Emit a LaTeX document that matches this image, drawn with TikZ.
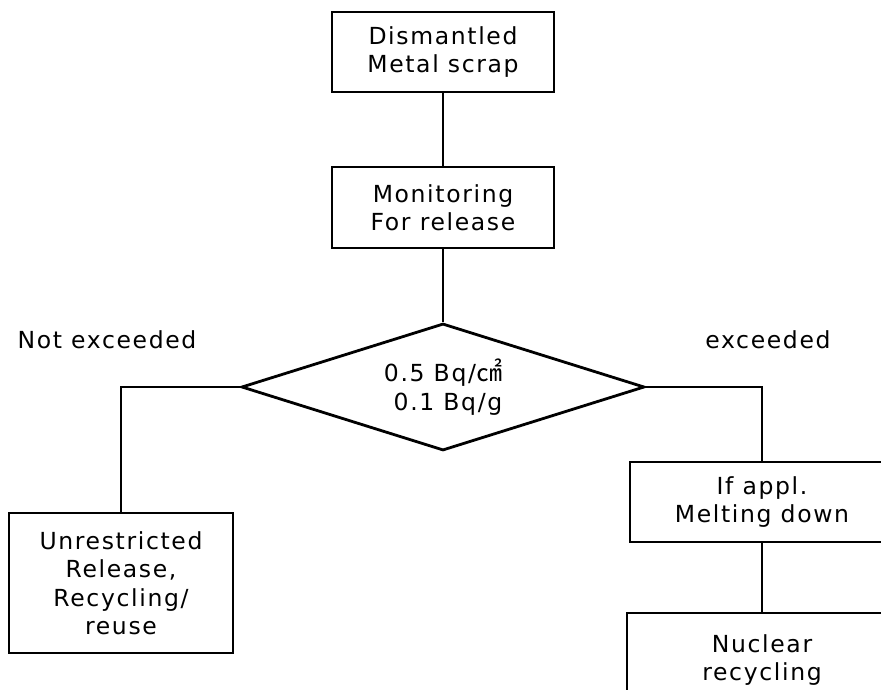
\documentclass[tikz,border=0pt]{standalone}
\usepackage{fontspec}
\setmainfont[LetterSpace=7]{DejaVu Sans}
\newfontfamily\cjk{Noto Sans CJK KR}
\usetikzlibrary{shapes.geometric}
\begin{document}
\begin{tikzpicture}[x=1pt,y=-1pt,
  font=\fontsize{23.5}{28.5}\selectfont,
  box/.style={draw, line width=2pt, rectangle, align=center, inner sep=0pt},
  dia/.style={draw, line width=2.8pt, diamond, aspect=3.17, inner sep=0pt,
    align=center, minimum width=403pt, minimum height=127pt},
  conn/.style={line width=2pt},
  lbl/.style={inner sep=0pt}]
\useasboundingbox (0,0) rectangle (881,690);
\clip (0,0) rectangle (881,690);
\fill[white] (0,0) rectangle (881,690);
\node[box, minimum width=222pt, minimum height=80pt] (b1) at (443,52) {Dismantled\\Metal scrap};
\node[box, minimum width=222pt, minimum height=81pt] (b2) at (443,207.5) {Monitoring\\For release};
\node[dia] (d) at (443,387) {0.5 Bq/{\cjk\fontsize{26}{28.5}\selectfont ㎠}\\ \hspace*{10pt}0.1 Bq/g};
\node[box, minimum width=224pt, minimum height=140pt] (b3) at (121,583) {Unrestricted\\Release,\\Recycling/\\reuse};
\node[box, minimum width=264pt, minimum height=80pt] (b4) at (762,502) {If appl.\\Melting down};
\node[box, minimum width=270pt, minimum height=94pt] (b5) at (762,660) {Nuclear\\recycling};
\node[lbl] (ln) at (107,340) {Not exceeded};
\node[lbl] (le) at (768,340) {exceeded};
\draw[conn] (b1.south) -- (b2.north);
\draw[conn] (b2.south) -- (d.north);
\draw[conn] (d.west) -| (b3.north);
\draw[conn] (d.east) -| (b4.north);
\draw[conn] (b4.south) -- (b5.north);
\end{tikzpicture}
\end{document}
